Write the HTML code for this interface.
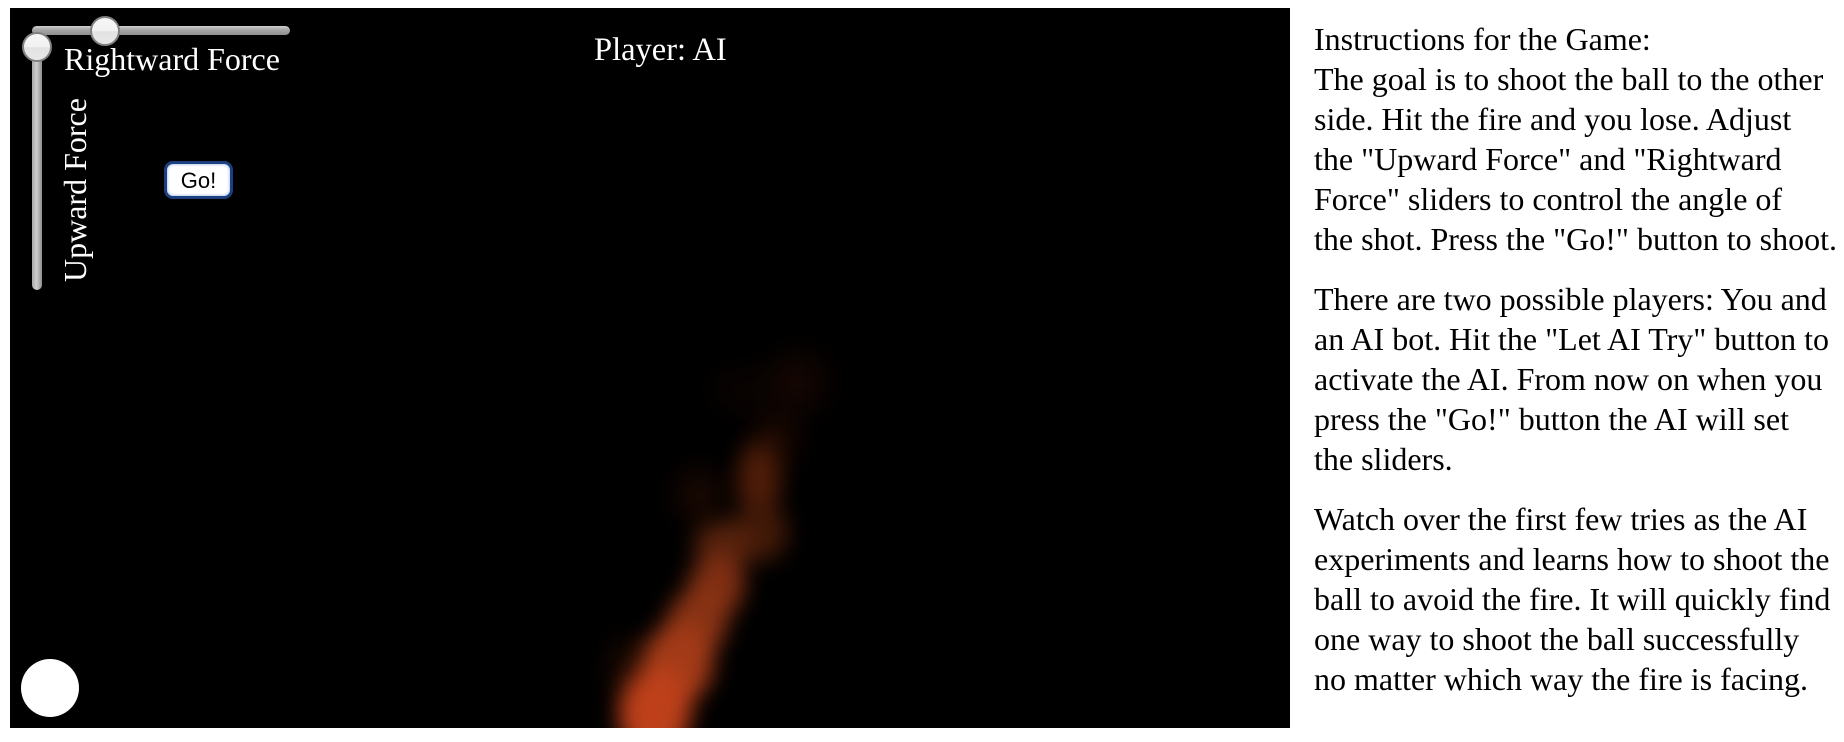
<!DOCTYPE html>
<html lang="en">
<head>
<meta charset="utf-8">
<title>Fire Game</title>
<style>
html,body{margin:0;padding:0;width:1844px;height:742px;overflow:hidden;background:#fff;}
body{position:relative;font-family:"Liberation Serif","Times New Roman",serif;}
#stage{position:absolute;left:10px;top:8px;width:1280px;height:720px;background:#000;overflow:hidden;}
.abs{position:absolute;white-space:nowrap;line-height:1;}
.white{color:#fff;}
.line{position:absolute;left:1314px;margin-top:-1px;white-space:nowrap;font-size:32px;line-height:40px;height:40px;color:#000;}
.track-h{position:absolute;left:32px;top:26px;width:258px;height:9px;border-radius:5px;background:linear-gradient(#d0d0d0,#a8a8a8 40%,#8f8f8f);}
.track-v{position:absolute;left:32px;top:35px;width:10px;height:255px;border-radius:5px;background:linear-gradient(90deg,#a8a8a8,#cfcfcf 45%,#8f8f8f);}
.thumb{position:absolute;width:26px;height:26px;border-radius:50%;border:2px solid #808080;background:linear-gradient(#f6f6f6,#f2f2f2 50%,#e2e2e2 52%,#e8e8e8);}
#go{position:absolute;left:164px;top:161px;width:69px;height:38px;box-sizing:border-box;border:3px solid #1d3f80;border-radius:9px;background:#fff;box-shadow:inset 0 0 3px #7fa6e0;font-family:"Liberation Sans",Arial,sans-serif;font-size:22px;color:#000;padding:1px 0 0;text-align:center;line-height:32px;}
#ball{position:absolute;left:21px;top:659px;width:58px;height:58px;border-radius:50%;background:#fff;}
#fire{position:absolute;left:0;top:0;}
</style>
</head>
<body>
<div id="stage"></div>

<svg id="fire" width="1290" height="728" viewBox="0 0 1290 728">
  <defs>
    <filter id="b1" x="-100%" y="-100%" width="300%" height="300%" color-interpolation-filters="sRGB"><feGaussianBlur stdDeviation="11"/></filter>
    <filter id="b2" x="-100%" y="-100%" width="300%" height="300%" color-interpolation-filters="sRGB"><feGaussianBlur stdDeviation="15"/></filter>
    <clipPath id="fc"><rect x="10" y="8" width="1280" height="720"/></clipPath>
  </defs>
  <g clip-path="url(#fc)">
    <g filter="url(#b2)">
      <ellipse cx="797" cy="382" rx="28" ry="28" fill="#150602"/>
      <ellipse cx="740" cy="390" rx="26" ry="18" fill="#0c0401"/>
      <ellipse cx="700" cy="497" rx="20" ry="26" fill="#1e0a03"/>
      <ellipse cx="632" cy="672" rx="18" ry="30" fill="#2a0f04"/>
      <ellipse cx="775" cy="440" rx="18" ry="24" fill="#260d03"/>
    </g>
    <g filter="url(#b1)">
      <ellipse cx="759" cy="480" rx="22" ry="38" fill="#4e1c08"/>
      <ellipse cx="760" cy="532" rx="28" ry="30" fill="#401807"/>
      <ellipse cx="724" cy="545" rx="30" ry="24" fill="#55210c"/>
      <ellipse cx="716" cy="587" rx="28" ry="34" transform="rotate(20 716 587)" fill="#7e2e12"/>
      <ellipse cx="696" cy="625" rx="30" ry="42" transform="rotate(25 696 625)" fill="#883214"/>
      <ellipse cx="677" cy="665" rx="36" ry="42" transform="rotate(15 677 665)" fill="#a23a17"/>
      <ellipse cx="655" cy="712" rx="36" ry="46" transform="rotate(8 655 712)" fill="#bd401a"/>
    </g>
  </g>
</svg>

<div class="track-h"></div>
<div class="track-v"></div>
<div class="thumb" style="left:90px;top:16px;"></div>
<div class="thumb" style="left:22px;top:32px;"></div>

<div class="abs white" style="left:64px;top:43px;font-size:32px;">Rightward Force</div>
<div class="abs white" style="left:59px;top:282px;font-size:32px;transform-origin:0 0;transform:rotate(-90deg);">Upward Force</div>
<div class="abs white" style="left:594px;top:34px;font-size:32.5px;">Player: AI</div>

<button id="go">Go!</button>
<div id="ball"></div>

<div>
<div class="line" style="top:20px">Instructions for the Game:</div>
<div class="line" style="top:60px">The goal is to shoot the ball to the other</div>
<div class="line" style="top:100px">side. Hit the fire and you lose. Adjust</div>
<div class="line" style="top:140px">the "Upward Force" and "Rightward</div>
<div class="line" style="top:180px">Force" sliders to control the angle of</div>
<div class="line" style="top:220px">the shot. Press the "Go!" button to shoot.</div>
<div class="line" style="top:280px">There are two possible players: You and</div>
<div class="line" style="top:320px">an AI bot. Hit the "Let AI Try" button to</div>
<div class="line" style="top:360px">activate the AI. From now on when you</div>
<div class="line" style="top:400px">press the "Go!" button the AI will set</div>
<div class="line" style="top:440px">the sliders.</div>
<div class="line" style="top:500px">Watch over the first few tries as the AI</div>
<div class="line" style="top:540px">experiments and learns how to shoot the</div>
<div class="line" style="top:580px">ball to avoid the fire. It will quickly find</div>
<div class="line" style="top:620px">one way to shoot the ball successfully</div>
<div class="line" style="top:660px">no matter which way the fire is facing.</div>
</div>
</body>
</html>
